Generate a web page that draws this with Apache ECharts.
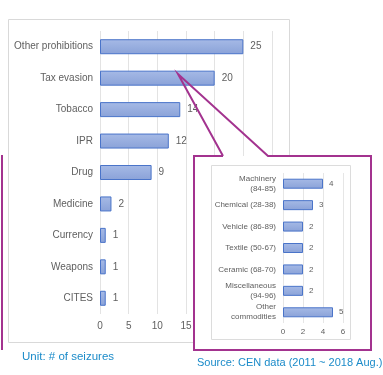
<!DOCTYPE html>
<html><head><meta charset="utf-8">
<script src="https://cdn.jsdelivr.net/npm/echarts@6/dist/echarts.min.js"></script>
<style>html,body{margin:0;padding:0;background:#fff}#c{width:383px;height:375px}</style>
</head><body><div id="c"></div>
<script>
var mainCategories = ['Other prohibitions','Tax evasion','Tobacco','IPR','Drug','Medicine','Currency','Weapons','CITES'];
var mainValues = [25,20,14,12,9,2,1,1,1];
var mainTicks = [0,5,10,15,20,25,30];
var insetCategories = ['Machinery\n(84-85)','Chemical (28-38)','Vehicle (86-89)','Textile (50-67)','Ceramic (68-70)','Miscellaneous\n(94-96)','Other\ncommodities'];
var insetValues = [4,3,2,2,2,2,5];
var insetTicks = [0,2,4,6];

var chart = echarts.init(document.getElementById('c'), null, {renderer:'canvas'});
var FONT = 'Liberation Sans';
var GRAY = '#606060';
var PURPLE = '#A3338F';
var BLUE = '#1B8BC9';
var barStyle = {
  color: new echarts.graphic.LinearGradient(0,0,0,1,[{offset:0,color:'#A6BAE6'},{offset:1,color:'#8AA2D8'}]),
  borderColor:'#4A74C9', borderWidth:1
};
chart.setOption({
  animation:false,
  grid:[
    {left:100, right:111, top:31, height:283},
    {left:283, right:40, top:173, height:150, z:10}
  ],
  xAxis:[
    {gridIndex:0, type:'value', min:mainTicks[0], max:mainTicks[mainTicks.length-1], interval:5,
     axisLine:{show:false}, axisTick:{show:false},
     axisLabel:{color:GRAY, fontFamily:FONT, fontSize:10, margin:7},
     splitLine:{lineStyle:{color:'#E3E3E3'}}},
    {gridIndex:1, type:'value', min:insetTicks[0], max:insetTicks[insetTicks.length-1], interval:2, z:10,
     axisLine:{show:false}, axisTick:{show:false},
     axisLabel:{color:GRAY, fontFamily:FONT, fontSize:8, margin:5},
     splitLine:{lineStyle:{color:'#E6E6E6'}}}
  ],
  yAxis:[
    {gridIndex:0, type:'category', data:mainCategories, inverse:true,
     axisLine:{show:false}, axisTick:{show:false},
     axisLabel:{color:GRAY, fontFamily:FONT, fontSize:10, margin:7}},
    {gridIndex:1, type:'category', data:insetCategories, inverse:true, z:10,
     axisLine:{show:false}, axisTick:{show:false},
     axisLabel:{color:GRAY, fontFamily:FONT, fontSize:8, margin:7, lineHeight:10}}
  ],
  series:[
    {type:'bar', xAxisIndex:0, yAxisIndex:0, data:mainValues, barWidth:15,
     itemStyle:barStyle,
     label:{show:true, position:'right', distance:7, color:GRAY, fontFamily:FONT, fontSize:10}},
    {type:'bar', xAxisIndex:1, yAxisIndex:1, data:insetValues, barWidth:10, z:12,
     itemStyle:barStyle,
     label:{show:true, position:'right', distance:6, color:GRAY, fontFamily:FONT, fontSize:8}}
  ],
  graphic:[
    {type:'rect', z:-1, shape:{x:8.5, y:19.5, width:281, height:323}, style:{fill:'none', stroke:'#D9D9D9', lineWidth:1}},
    {type:'rect', z:5, shape:{x:194, y:156, width:177, height:194}, style:{fill:'#fff'}},
    {type:'rect', z:6, shape:{x:211.5, y:165.5, width:139, height:174}, style:{fill:'none', stroke:'#DCDCDC', lineWidth:1}},
    {type:'polyline', z:7, shape:{points:[[223,156],[194,156],[194,350],[371,350],[371,156],[268,156],[178,74],[223,156]]},
     style:{fill:'none', stroke:PURPLE, lineWidth:2}},
    {type:'line', z:7, shape:{x1:2, y1:155, x2:2, y2:350}, style:{stroke:PURPLE, lineWidth:2}},
    {type:'text', z:7, left:22, top:351, style:{text:'Unit: # of seizures', fill:BLUE, font:'11.5px "Liberation Sans"'}},
    {type:'text', z:7, left:197, top:357, style:{text:'Source: CEN data (2011 ~ 2018 Aug.)', fill:BLUE, font:'11px "Liberation Sans"'}}
  ]
});
</script></body></html>
